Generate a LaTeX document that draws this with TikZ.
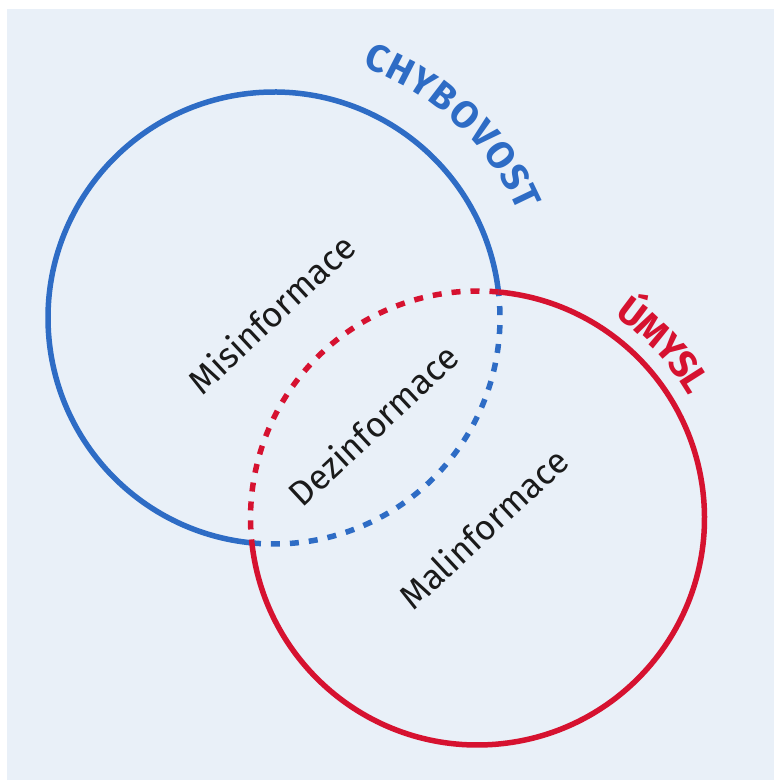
\documentclass[tikz,border=0pt]{standalone}
\usepackage{fontspec}
\setmainfont{Fira Sans}
\definecolor{chybblue}{RGB}{46,108,197}
\definecolor{umyslred}{RGB}{214,18,48}
\definecolor{venbg}{RGB}{233,240,248}
\definecolor{venink}{RGB}{26,26,26}
\tikzset{
  ring/.style={line width=5.5pt},
  dotring/.style={line width=5.5pt, dash pattern=on 9pt off 10pt},
  areaname/.style={text=venink, font=\fontsize{35}{40}\selectfont, rotate=43, inner sep=0pt},
  ringletter/.style={font=\bfseries\fontsize{38}{44}\selectfont, anchor=base, inner sep=0pt},
}
\begin{document}
\begin{tikzpicture}[x=1pt, y=1pt]
  \useasboundingbox (0,0) rectangle (774,780);
  \fill[venbg] (7,0) rectangle (774,771);
  \coordinate (chyb) at (274,462);
  \coordinate (umysl) at (477.5,262);
  \draw[ring, chybblue] ([shift={(6.6:226)}]chyb) arc[start angle=6.6, end angle=264.4, radius=226pt];
  \draw[dotring, chybblue] ([shift={(-95.6:226)}]chyb) arc[start angle=-95.6, end angle=6.6, radius=226pt];
  \draw[ring, umyslred] ([shift={(186.3:227)}]umysl) arc[start angle=186.3, end angle=444.7, radius=227pt];
  \draw[dotring, umyslred] ([shift={(84.7:227)}]umysl) arc[start angle=84.7, end angle=186.3, radius=227pt];
  \node[areaname] (misinf) at (271,466.5) {Misinformace};
  \node[areaname] (dezinf) at (373,355) {Dezinformace};
  \node[areaname] (malinf) at (483,252) {Malinformace};
  \foreach \l/\a [count=\i] in {C/68.2, H/62.9, Y/57.6, B/52.5, O/46.8, V/41.2, O/35.6, S/30.2, T/25.6}
    \node[ringletter, text=chybblue, rotate=\a-90] (chyb\i) at ([shift={(\a:266)}]chyb) {\l};
  \foreach \l/\a [count=\i] in {Ú/52.9, M/47.0, Y/41.4, S/36.7, L/32.4}
    \node[ringletter, text=umyslred, rotate=\a-90] (umysl\i) at ([shift={(\a:244)}]umysl) {\l};
\end{tikzpicture}
\end{document}
